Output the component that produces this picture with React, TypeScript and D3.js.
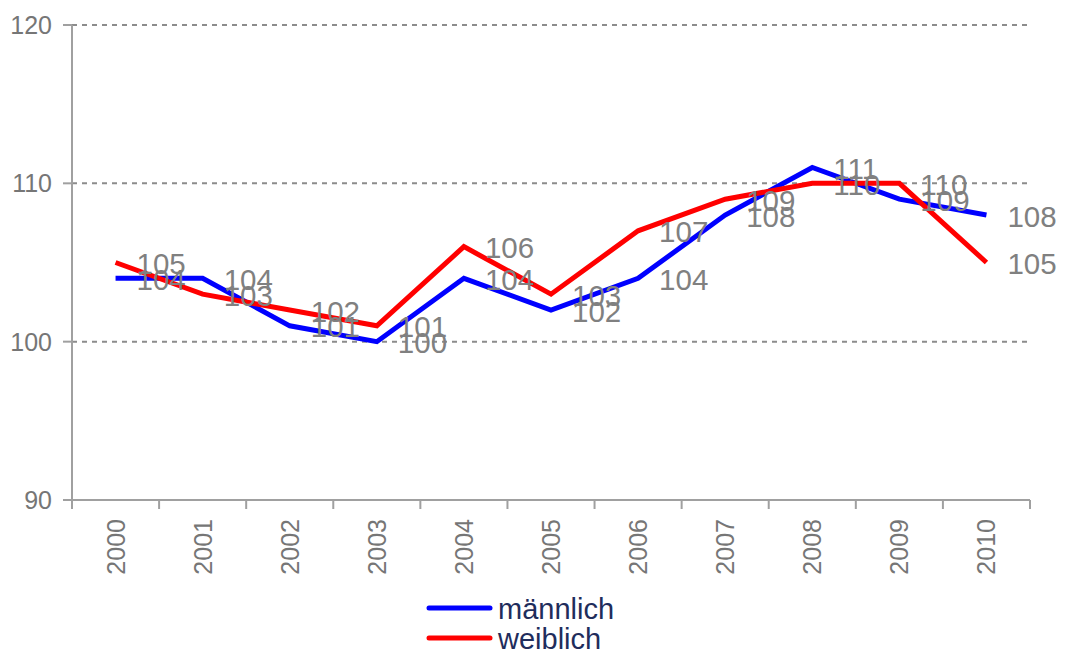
import React from "react";
import * as d3 from "d3";

const years = ["2000", "2001", "2002", "2003", "2004", "2005", "2006", "2007", "2008", "2009", "2010"];
const maennlich = [104, 104, 101, 100, 104, 102, 104, 108, 111, 109, 108];
const weiblich = [105, 103, 102, 101, 106, 103, 107, 109, 110, 110, 105];
const yTicks = [90, 100, 110, 120];
const seriesNames = ["männlich", "weiblich"];
const seriesColors = ["#0000ff", "#ff0000"];

const W = 1067;
const H = 653;
const left = 72;
const right = 1030;
const top = 25;
const bottom = 500;
const FONT = "Liberation Sans, Arial, sans-serif";

export default function App() {
  const x = d3.scaleBand<string>().domain(years).range([left, right]).padding(0);
  const y = d3.scaleLinear().domain([90, 120]).range([bottom, top]);
  const cx = (yr: string) => (x(yr) as number) + x.bandwidth() / 2;
  const line = d3
    .line<number>()
    .x((_, i) => cx(years[i]))
    .y((d) => y(d));
  const series = [maennlich, weiblich];
  const boundaries = years.map((yr) => x(yr) as number).concat([right]);

  return (
    <div style={{ position: "absolute", left: 0, top: 0 }}>
      <svg width={W} height={H} style={{ display: "block", fontFamily: FONT }}>
        <rect x={0} y={0} width={W} height={H} fill="#ffffff" />
        {/* gridlines */}
        {yTicks
          .filter((t) => t !== 90)
          .map((t) => (
            <line
              key={"g" + t}
              x1={left}
              x2={right}
              y1={y(t)}
              y2={y(t)}
              stroke="#8c8c8c"
              strokeWidth={2}
              strokeDasharray="5,5"
            />
          ))}
        {/* y axis */}
        <line x1={left} x2={left} y1={top} y2={bottom} stroke="#a0a0a0" strokeWidth={2} />
        {yTicks.map((t) => (
          <g key={"yt" + t}>
            <line x1={left - 9} x2={left} y1={y(t)} y2={y(t)} stroke="#a0a0a0" strokeWidth={2} />
            <text
              x={left - 20}
              y={y(t)}
              textAnchor="end"
              dominantBaseline="central"
              fontSize={25}
              fill="#767676"
            >
              {t}
            </text>
          </g>
        ))}
        {/* x axis */}
        <line x1={left} x2={right} y1={bottom} y2={bottom} stroke="#a0a0a0" strokeWidth={2} />
        {boundaries.map((bx, i) => (
          <line key={"xt" + i} x1={bx} x2={bx} y1={bottom} y2={bottom + 9} stroke="#a0a0a0" strokeWidth={2} />
        ))}
        {years.map((yr) => (
          <text
            key={"xl" + yr}
            transform={`translate(${cx(yr)},${519}) rotate(-90)`}
            textAnchor="end"
            dominantBaseline="central"
            fontSize={25}
            fill="#767676"
          >
            {yr}
          </text>
        ))}
        {/* lines */}
        {series.map((s, si) => (
          <path
            key={"l" + si}
            d={line(s) as string}
            fill="none"
            stroke={seriesColors[si]}
            strokeWidth={5}
            strokeLinejoin="miter"
          />
        ))}
        {/* data labels */}
        {series.map((s, si) =>
          s.map((v, i) => (
            <text
              key={"dl" + si + "-" + i}
              x={cx(years[i]) + 21}
              y={y(v) + 1}
              dominantBaseline="central"
              fontSize={29.5}
              fill="#808080"
            >
              {v}
            </text>
          ))
        )}
        {/* legend */}
        {seriesNames.map((n, i) => (
          <g key={"lg" + i}>
            <line
              x1={429}
              x2={490}
              y1={608 + i * 30}
              y2={608 + i * 30}
              stroke={seriesColors[i]}
              strokeWidth={5}
              strokeLinecap="round"
            />
            <text x={498} y={609 + i * 30} dominantBaseline="central" fontSize={29} fill="#1f2d5c">
              {n}
            </text>
          </g>
        ))}
      </svg>
    </div>
  );
}
